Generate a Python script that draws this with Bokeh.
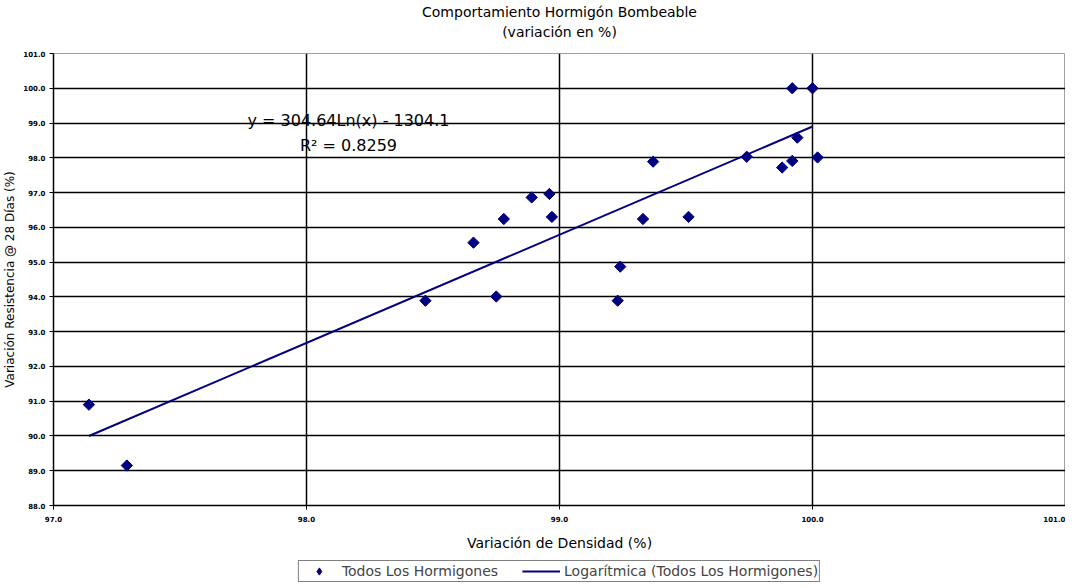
import numpy as np
from bokeh.plotting import figure
from bokeh.layouts import column
from bokeh.models import (Title, Label, Legend, LegendItem, FixedTicker,
                          NumeralTickFormatter, ColumnDataSource)
from bokeh.embed import file_html
from bokeh.resources import INLINE

# ---- data ----
density = [97.14, 97.29, 98.47, 98.66, 98.75, 98.78, 98.89, 98.96, 98.97,
           99.23, 99.24, 99.33, 99.37, 99.51, 99.74, 99.88, 99.92, 99.92,
           99.94, 100.00, 100.02]
strength = [90.90, 89.15, 93.89, 95.56, 94.01, 96.24, 96.86, 96.96, 96.30,
            93.89, 94.87, 96.24, 97.89, 96.30, 98.03, 97.72, 100.00, 97.91,
            98.58, 100.00, 98.01]
trend_x = [97.14, 100.00]
trend_y = [90.00, 98.90]
x_ticks = [97, 98, 99, 100, 101]
y_ticks = [88, 89, 90, 91, 92, 93, 94, 95, 96, 97, 98, 99, 100, 101]

title_line1 = "Comportamiento Hormigón Bombeable"
title_line2 = "(variación en %)"
x_label = "Variación de Densidad (%)"
y_label = "Variación Resistencia @ 28 Días (%)"
eq_text = "y = 304.64Ln(x) - 1304.1"
r2_text = "R² = 0.8259"
series_name = "Todos Los Hormigones"
trend_name = "Logarítmica (Todos Los Hormigones)"

FONT = "DejaVu Sans"
NAVY = "#000080"

p = figure(width=1065, height=553, x_range=(97, 101), y_range=(88, 101),
           output_backend="svg", toolbar_location=None, title=None,
           min_border_left=53, min_border_right=0, min_border_top=53,
           min_border_bottom=48)
p.background_fill_color = "white"
p.border_fill_color = "white"
p.outline_line_color = "#a0a0a0"
p.outline_line_width = 1

# titles (first added is closest to the plot); a blank one keeps a gap
p.add_layout(Title(text=" ", text_font=FONT, text_font_size="10px",
                   standoff=0), "above")
p.add_layout(Title(text=title_line2, align="center", text_font=FONT,
                   text_font_size="14px", text_font_style="normal",
                   text_color="black", standoff=2), "above")
p.add_layout(Title(text=title_line1, align="center", text_font=FONT,
                   text_font_size="14px", text_font_style="normal",
                   text_color="black", standoff=1), "above")

src = ColumnDataSource(dict(x=density, y=strength))
p.scatter("x", "y", source=src, marker="square", angle=np.pi / 4,
          size=8, fill_color=NAVY, line_color=NAVY)
p.line(trend_x, trend_y, line_color=NAVY, line_width=2)

for ax, ticks in ((p.xaxis[0], x_ticks), (p.yaxis[0], y_ticks)):
    ax.ticker = FixedTicker(ticks=ticks)
    ax.formatter = NumeralTickFormatter(format="0.0")
    ax.major_label_text_font = FONT
    ax.major_label_text_font_size = "7px"
    ax.major_label_text_font_style = "bold"
    ax.major_label_text_color = "black"
    ax.major_tick_out = 4
    ax.major_tick_in = 0
    ax.minor_tick_out = 0
    ax.minor_tick_in = 0
    ax.axis_line_color = "black"
    ax.axis_line_width = 1.5
    ax.major_tick_line_color = "black"
    ax.axis_label_text_font = FONT
    ax.axis_label_text_font_style = "normal"
    ax.axis_label_text_color = "black"

p.xaxis.axis_label = x_label
p.yaxis.axis_label = y_label
p.xaxis.axis_label_text_font_size = "14px"
p.yaxis.axis_label_text_font_size = "12px"
p.xaxis.major_label_standoff = 6
p.xaxis.axis_label_standoff = 10
p.yaxis.major_label_standoff = 4
p.yaxis.axis_label_standoff = 3

p.xgrid.ticker = FixedTicker(ticks=x_ticks)
p.ygrid.ticker = FixedTicker(ticks=y_ticks)
for g in (p.xgrid[0], p.ygrid[0]):
    g.grid_line_color = "black"
    g.grid_line_width = 1.5
    g.grid_line_alpha = 1.0

p.add_layout(Label(x=98.166, y=99.06, text=eq_text, text_align="center",
                   text_baseline="middle", text_font=FONT,
                   text_font_size="16px", text_color="black"))
p.add_layout(Label(x=98.166, y=98.34, text=r2_text, text_align="center",
                   text_baseline="middle", text_font=FONT,
                   text_font_size="16px", text_color="black"))

# ---- legend strip below the chart ----
lf = figure(width=1065, height=31, x_range=(0, 1), y_range=(0, 1),
            output_backend="svg", toolbar_location=None,
            min_border=0, min_border_left=53, min_border_right=0)
lf.axis.visible = False
lf.grid.visible = False
lf.outline_line_color = None
lf.background_fill_color = "white"
lf.border_fill_color = "white"
# same series, outside this strip's visible range: only the legend swatches show
lr1 = lf.scatter("x", "y", source=src, marker="diamond", size=12,
                 fill_color=NAVY, line_color=NAVY)
lr2 = lf.line(trend_x, trend_y, line_color=NAVY, line_width=2)
legend = Legend(items=[LegendItem(label=series_name, renderers=[lr1]),
                       LegendItem(label=trend_name, renderers=[lr2])],
                orientation="horizontal", location="bottom_center",
                border_line_color="black", border_line_width=1,
                background_fill_color="white", background_fill_alpha=1,
                label_text_font=FONT, label_text_font_size="14px",
                label_height=18, glyph_width=38, glyph_height=18,
                padding=1, spacing=24, margin=2, label_standoff=4)
lf.add_layout(legend)

open("out.html", "w").write(file_html(column(p, lf), INLINE))
